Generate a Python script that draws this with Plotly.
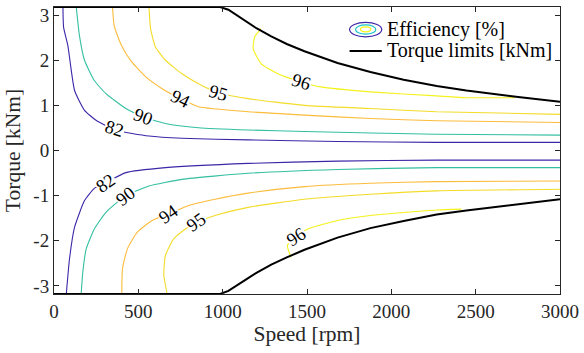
import plotly.graph_objects as go

# ---------------- data ----------------
levels = [82, 90, 94, 95, 96]
level_colors = ["#3e26a8", "#33bfa0", "#fcbc3c", "#f3dc2a", "#f4f21c"]

# upper (motoring) branches of the efficiency contours
top_speed = {
    82: [53, 57, 82, 122, 181, 249, 367, 563, 759, 1151, 1681, 2269, 3000],
    90: [132, 151, 181, 239, 308, 426, 529, 661, 857, 1151, 1485, 2269, 3000],
    94: [347, 357, 396, 455, 544, 641, 749, 857, 1151, 1485, 1876, 2269, 3000],
    95: [563, 573, 602, 661, 759, 876, 975, 1151, 1485, 1876, 2269, 3000],
    96: [1228, 1190, 1181, 1229, 1327, 1465, 1582, 1876, 2269, 2445, 2730],
}
top_torque = {
    82: [3.18, 2.73, 2.33, 1.33, 0.89, 0.67, 0.45, 0.32, 0.27, 0.235, 0.20, 0.18, 0.18],
    90: [3.18, 2.54, 2.00, 1.55, 1.26, 0.93, 0.75, 0.60, 0.505, 0.455, 0.42, 0.36, 0.34],
    94: [3.18, 2.76, 2.36, 1.99, 1.63, 1.37, 1.15, 0.97, 0.86, 0.785, 0.71, 0.66, 0.62],
    95: [3.18, 2.69, 2.29, 2.00, 1.70, 1.44, 1.28, 1.15, 1.00, 0.93, 0.86, 0.80],
    96: [2.70, 2.52, 2.25, 1.92, 1.70, 1.52, 1.41, 1.30, 1.21, 1.17, 1.17],
}

# lower (generating) branches of the efficiency contours
bottom_speed = {
    82: [73, 92, 122, 181, 239, 308, 426, 661, 1151, 1681, 2269, 3000],
    90: [161, 171, 191, 239, 308, 426, 563, 759, 1151, 1681, 2269, 3000],
    94: [402, 406, 435, 494, 582, 681, 798, 955, 1151, 1485, 1876, 2269, 3000],
    95: [671, 651, 661, 710, 779, 847, 955, 1151, 1485, 1876, 2269, 3000],
    96: [1405, 1384, 1435, 1504, 1681, 1876, 2269, 2416],
}
bottom_torque = {
    82: [-3.18, -2.40, -1.70, -1.11, -0.84, -0.71, -0.49, -0.38, -0.286, -0.235, -0.213, -0.213],
    90: [-3.18, -2.69, -2.18, -1.74, -1.37, -1.00, -0.785, -0.64, -0.505, -0.42, -0.38, -0.38],
    94: [-3.18, -2.62, -2.18, -1.81, -1.55, -1.41, -1.22, -1.08, -0.945, -0.80, -0.725, -0.69, -0.675],
    95: [-3.18, -2.76, -2.32, -1.96, -1.74, -1.59, -1.44, -1.26, -1.08, -0.97, -0.895, -0.86],
    96: [-2.37, -2.10, -1.92, -1.74, -1.55, -1.44, -1.32, -1.30],
}

# torque limit envelope
limit_speed = [0, 985, 1034, 1092, 1151, 1200, 1288, 1380, 1485, 1681, 1876, 2073, 2269, 2445, 2739, 3000]
limit_torque_top = [3.18, 3.18, 3.12, 2.98, 2.82, 2.71, 2.53, 2.36, 2.20, 1.94, 1.74, 1.57, 1.43, 1.33, 1.19, 1.08]
limit_torque_bottom = [-3.18, -3.18, -3.11, -2.98, -2.83, -2.71, -2.53, -2.37, -2.20, -1.93, -1.72, -1.56, -1.42, -1.33, -1.19, -1.08]

# inline contour labels
label_text = ["82", "90", "94", "95", "96", "82", "90", "94", "95", "96"]
label_speed = [361, 529, 749, 975, 1465, 308, 426, 681, 847, 1435]
label_torque = [0.47, 0.75, 1.15, 1.28, 1.52, -0.71, -1.00, -1.41, -1.59, -1.92]
label_angle = [17, 21, 26, 16, 17, -35, -38, -35, -35, -33]

x_ticks = [0, 500, 1000, 1500, 2000, 2500, 3000]
y_ticks = [-3, -2, -1, 0, 1, 2, 3]

# ---------------- figure ----------------
FONT = "Liberation Serif"
W, H = 584, 353
ML, MR, MT, MB = 54, 19, 5, 59
PW, PH = W - ML - MR, H - MT - MB


def px(xp):
    return (xp - ML) / PW


def py(yp):
    return (H - MB - yp) / PH


fig = go.Figure()

for lev, col in zip(levels, level_colors):
    for sp, tq in ((top_speed[lev], top_torque[lev]), (bottom_speed[lev], bottom_torque[lev])):
        fig.add_trace(go.Scatter(
            x=sp, y=tq, mode="lines",
            line=dict(color=col, width=1.1, shape="spline", smoothing=0.5),
            showlegend=False, hoverinfo="skip",
        ))

fig.add_trace(go.Scatter(
    x=limit_speed, y=limit_torque_top, mode="lines",
    line=dict(color="black", width=2), showlegend=False, hoverinfo="skip",
))
fig.add_trace(go.Scatter(
    x=limit_speed, y=limit_torque_bottom, mode="lines",
    line=dict(color="black", width=2), showlegend=False, hoverinfo="skip",
))

annotations = []
for t, xs, ys, ang in zip(label_text, label_speed, label_torque, label_angle):
    annotations.append(dict(
        x=xs, y=ys, xref="x", yref="y", text=t, showarrow=False,
        textangle=ang, font=dict(family=FONT, size=18.5, color="black"),
        bgcolor="white", borderpad=0,
    ))

# manual legend
shapes = [
    dict(type="circle", xref="paper", yref="paper",
         x0=px(352.5), x1=px(385), y0=py(35), y1=py(20.5),
         line=dict(color=level_colors[0], width=1.2)),
    dict(type="circle", xref="paper", yref="paper",
         x0=px(358.5), x1=px(379), y0=py(32.3), y1=py(23),
         line=dict(color="#19c3c8", width=1.2)),
    dict(type="circle", xref="paper", yref="paper",
         x0=px(363.5), x1=px(374), y0=py(30), y1=py(25),
         line=dict(color="#f4f21c", width=1.2)),
    dict(type="line", xref="paper", yref="paper",
         x0=px(352.5), x1=px(385), y0=py(49.3), y1=py(49.3),
         line=dict(color="black", width=2)),
]
annotations.append(dict(x=px(388), y=py(28), xref="paper", yref="paper",
                        text="Efficiency [%]", showarrow=False, xanchor="left", yanchor="middle",
                        font=dict(family=FONT, size=20, color="black")))
annotations.append(dict(x=px(388), y=py(49), xref="paper", yref="paper",
                        text="Torque limits [kNm]", showarrow=False, xanchor="left", yanchor="middle",
                        font=dict(family=FONT, size=20, color="black")))

axis_common = dict(
    showgrid=False, zeroline=False, showline=True, linecolor="#262626", linewidth=1,
    mirror="ticks", ticks="inside", ticklen=5, tickcolor="#262626",
    tickfont=dict(family=FONT, size=19, color="#262626"),
    ticklabeloverflow="allow",
)

fig.update_layout(
    width=W, height=H,
    margin=dict(l=ML, r=MR, t=MT, b=MB),
    paper_bgcolor="white", plot_bgcolor="white",
    showlegend=False,
    xaxis=dict(range=[0, 3000], tickvals=x_ticks, ticktext=[str(v) for v in x_ticks],
               title=dict(text="Speed [rpm]", font=dict(family=FONT, size=21.5, color="#262626"), standoff=3),
               **axis_common),
    yaxis=dict(range=[-3.18, 3.18], tickvals=y_ticks, ticktext=[str(v) for v in y_ticks],
               title=dict(text="Torque [kNm]", font=dict(family=FONT, size=21.5, color="#262626"), standoff=6),
               **axis_common),
    shapes=shapes,
    annotations=annotations,
)

fig.write_html("out.html")
